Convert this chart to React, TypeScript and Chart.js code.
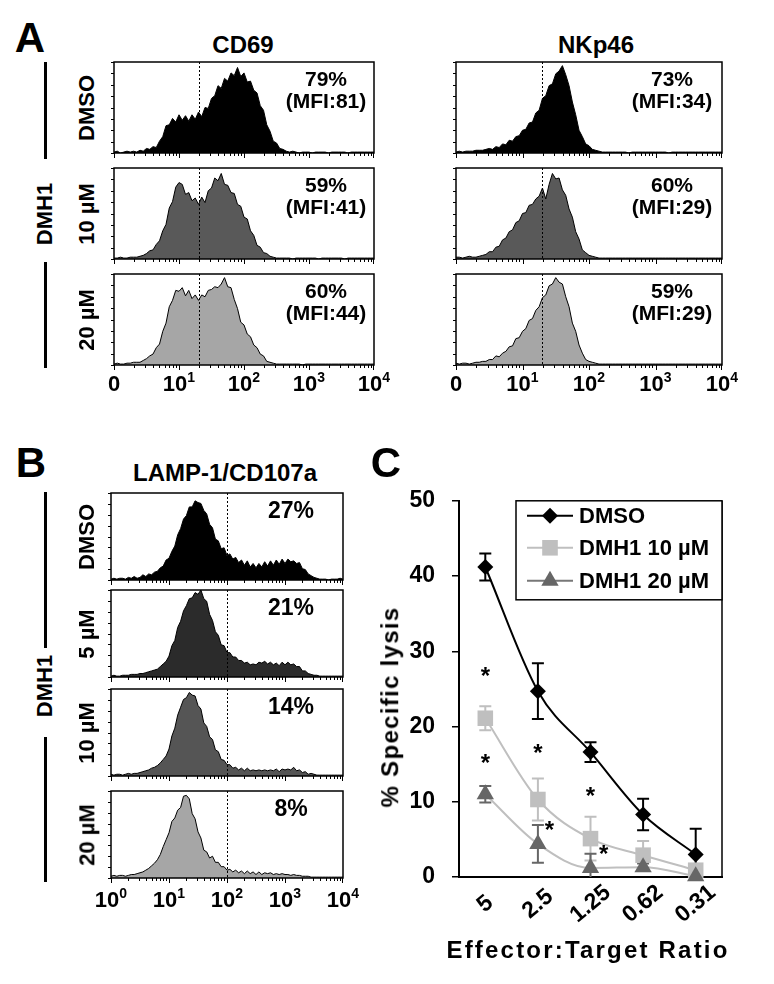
import React, { useEffect, useRef } from 'react';
import { Chart, registerables } from 'chart.js';
Chart.register(...registerables);

const FONT = '"Liberation Sans", Arial, Helvetica, sans-serif';

// ---------- Flow cytometry histograms (bins every 0.05 log-decade, 0..4) ----------
const BIN_STEP = 0.05;

const CD69_DMSO = [
  1, 2, 0, 1, 2, 1, 2, 1, 3, 2,
  5, 4, 7, 6, 13, 18, 30, 31, 38, 34,
  42, 36, 41, 35, 42, 37, 45, 40, 50, 49,
  60, 63, 74, 71, 82, 79, 88, 85, 94, 84,
  88, 78, 79, 69, 66, 52, 47, 31, 24, 13,
  11, 5, 4, 2, 1, 2, 1, 0, 1, 1,
  1, 0, 1, 1, 1, 1, 0, 1, 1, 1,
  1, 1, 0, 1, 1, 1, 1, 1, 1, 1,
  1,
];
const CD69_D10 = [
  1, 1, 2, 1, 1, 2, 2, 2, 3, 4,
  6, 9, 10, 16, 20, 31, 38, 56, 63, 79,
  84, 82, 71, 73, 64, 67, 60, 68, 62, 75,
  78, 89, 86, 94, 82, 81, 73, 72, 60, 58,
  46, 44, 31, 26, 15, 13, 7, 6, 3, 2,
  1, 1, 1, 1, 1, 0, 1, 1, 1, 1,
  1, 1, 1, 0, 1, 1, 1, 1, 1, 1,
  1, 0, 1, 1, 1, 1, 1, 1, 1, 1,
  1,
];
const CD69_D20 = [
  1, 2, 1, 1, 2, 2, 3, 3, 3, 5,
  7, 10, 12, 19, 23, 37, 46, 64, 71, 82,
  81, 85, 76, 82, 73, 77, 71, 77, 75, 82,
  83, 86, 85, 89, 96, 86, 85, 72, 62, 47,
  44, 34, 31, 22, 19, 12, 10, 4, 3, 2,
  1, 1, 1, 1, 1, 1, 1, 1, 0, 1,
  1, 1, 1, 1, 1, 1, 1, 1, 1, 1,
  1, 1, 1, 1, 1, 1, 1, 1, 1, 1,
  1,
];
const NKP46_DMSO = [
  1, 2, 1, 2, 2, 2, 3, 3, 3, 4,
  5, 4, 7, 6, 10, 9, 14, 13, 18, 19,
  25, 26, 33, 34, 44, 47, 60, 63, 74, 76,
  87, 90, 96, 86, 74, 56, 42, 25, 18, 10,
  8, 4, 3, 2, 1, 1, 1, 1, 1, 1,
  1, 1, 0, 1, 1, 1, 1, 1, 1, 1,
  1, 1, 1, 1, 0, 1, 1, 1, 1, 1,
  1, 1, 1, 1, 1, 1, 1, 1, 1, 1,
  1,
];
const NKP46_D10 = [
  2, 2, 1, 2, 3, 2, 2, 3, 4, 5,
  8, 8, 13, 14, 21, 23, 30, 32, 40, 42,
  50, 51, 59, 60, 66, 69, 78, 66, 82, 94,
  88, 89, 76, 70, 55, 46, 30, 22, 10, 7,
  4, 3, 2, 1, 1, 1, 1, 1, 1, 1,
  1, 1, 1, 1, 1, 1, 1, 1, 1, 1,
  1, 1, 1, 1, 1, 1, 1, 1, 1, 1,
  1, 1, 1, 1, 1, 1, 1, 1, 1, 1,
  1,
];
const NKP46_D20 = [
  2, 1, 2, 2, 1, 2, 3, 3, 4, 4,
  6, 6, 10, 9, 13, 15, 20, 21, 29, 30,
  37, 40, 49, 51, 60, 64, 74, 77, 87, 89,
  96, 91, 89, 75, 64, 46, 37, 22, 13, 6,
  4, 3, 2, 1, 1, 1, 1, 1, 1, 1,
  1, 1, 1, 1, 1, 1, 1, 1, 1, 1,
  1, 1, 1, 1, 1, 1, 1, 1, 1, 1,
  1, 1, 1, 1, 1, 1, 1, 1, 1, 1,
  1,
];
const LAMP_DMSO = [
  1, 2, 1, 2, 2, 1, 3, 2, 4, 2,
  3, 6, 4, 7, 6, 9, 10, 14, 16, 23,
  25, 33, 39, 52, 59, 70, 74, 84, 84, 91,
  89, 88, 80, 76, 64, 60, 47, 45, 36, 37,
  28, 30, 24, 26, 20, 23, 17, 22, 15, 19,
  14, 19, 15, 21, 16, 22, 17, 23, 18, 24,
  19, 24, 21, 22, 19, 20, 13, 12, 7, 5,
  3, 2, 1, 1, 1, 0, 1, 1, 1, 2,
  1,
];
const LAMP_D5 = [
  1, 2, 1, 1, 2, 2, 2, 3, 3, 3,
  4, 4, 5, 6, 7, 8, 9, 12, 15, 18,
  24, 36, 42, 57, 64, 76, 82, 90, 91, 97,
  95, 100, 90, 87, 72, 65, 52, 48, 37, 36,
  28, 28, 23, 23, 19, 19, 16, 17, 14, 15,
  14, 17, 16, 18, 15, 17, 14, 16, 13, 17,
  14, 17, 14, 15, 12, 12, 7, 7, 4, 3,
  2, 2, 1, 1, 1, 1, 1, 1, 1, 1,
  1,
];
const LAMP_D10 = [
  2, 1, 2, 2, 1, 2, 3, 2, 3, 3,
  4, 5, 6, 7, 9, 10, 12, 15, 19, 23,
  31, 46, 55, 70, 79, 88, 90, 96, 93, 92,
  81, 77, 61, 57, 45, 42, 30, 28, 19, 18,
  13, 13, 9, 10, 7, 9, 6, 9, 6, 7,
  6, 7, 6, 7, 6, 7, 6, 8, 5, 8,
  7, 8, 7, 10, 6, 7, 4, 5, 2, 3,
  2, 1, 1, 1, 1, 1, 1, 1, 1, 1,
  1,
];
const LAMP_D20 = [
  2, 3, 2, 3, 3, 2, 3, 4, 4, 5,
  6, 7, 9, 11, 14, 17, 21, 27, 36, 44,
  52, 65, 69, 78, 81, 94, 95, 91, 74, 68,
  53, 46, 32, 30, 23, 25, 18, 18, 13, 13,
  9, 10, 7, 9, 6, 8, 5, 8, 5, 7,
  4, 7, 4, 6, 5, 6, 4, 5, 4, 5,
  4, 4, 3, 4, 3, 3, 2, 2, 2, 1,
  1, 1, 1, 1, 1, 1, 1, 1, 1, 1,
  1,
];

// gates (log decade of the dotted marker)
const A_GATE = 1.3;
const B_GATE = 2.0;

// tick labels of the log axes
const A_TICK_BASE = ['0', '10', '10', '10', '10'];
const A_TICK_EXP = ['', '1', '2', '3', '4'];
const B_TICK_BASE = ['10', '10', '10', '10', '10'];
const B_TICK_EXP = ['0', '1', '2', '3', '4'];

// texts
const A_MARKERS = ['CD69', 'NKp46'];
const A_ROWS = ['DMSO', '10 µM', '20 µM'];
const B_ROWS = ['DMSO', '5 µM', '10 µM', '20 µM'];
const CD69_PCT = ['79%', '59%', '60%'];
const CD69_MFI = ['(MFI:81)', '(MFI:41)', '(MFI:44)'];
const NKP46_PCT = ['73%', '60%', '59%'];
const NKP46_MFI = ['(MFI:34)', '(MFI:29)', '(MFI:29)'];
const LAMP_PCT = ['27%', '21%', '14%', '8%'];

// ---------- Panel C: cytotoxicity ----------
const C_RATIOS = ['5', '2.5', '1.25', '0.62', '0.31'];
const C_SERIES_NAMES = ['DMSO', 'DMH1 10 µM', 'DMH1 20 µM'];
const C_DMSO = [41.2, 24.7, 16.6, 8.3, 3.0];
const C_DMSO_ERR = [1.8, 3.7, 1.3, 2.1, 3.4];
const C_D10 = [21.1, 10.3, 5.1, 2.9, 0.9];
const C_D10_ERR = [1.6, 2.8, 2.9, 1.9, 0.5];
const C_D20 = [11.0, 4.4, 1.2, 1.3, 0.1];
const C_D20_ERR = [1.1, 2.5, 1.9, 0.5, 0.2];
const C_STAR_POS = [0, 0, 1, 1.22, 2, 2.25];
const C_STAR_VAL = [27.3, 15.8, 17.1, 6.8, 11.3, 3.6];

type HistProps = {
  x: number; y: number; w: number; h: number;
  values: number[]; fill: string; gate: number;
  tickBase?: string[]; tickExp?: string[]; labelOffset?: number;
};

function Histogram({ x, y, w, h, values, fill, gate, tickBase, tickExp, labelOffset = 20 }: HistProps) {
  const ref = useRef<HTMLCanvasElement>(null);
  const hasTicks = !!tickBase;
  const padL = hasTicks ? 18 : 10;
  const padR = hasTicks ? 26 : 6;
  const padT = 4;
  const padB = hasTicks ? 46 : 8;
  const cw = w + padL + padR;
  const ch = h + padT + padB;

  useEffect(() => {
    const plugin = {
      id: 'histFrame',
      afterDatasetsDraw(chart: any) {
        const { ctx, chartArea: a, scales } = chart;
        const sx = scales.x, sy = scales.y;
        ctx.save();
        ctx.strokeStyle = '#000';
        ctx.lineWidth = 1;
        ctx.setLineDash([2, 2]);
        const gx = Math.round(sx.getPixelForValue(gate)) + 0.5;
        ctx.beginPath();
        ctx.moveTo(gx, a.top);
        ctx.lineTo(gx, a.bottom);
        ctx.stroke();
        ctx.setLineDash([]);
        ctx.lineWidth = 1.5;
        ctx.strokeRect(a.left, a.top, a.right - a.left, a.bottom - a.top);
        ctx.lineWidth = 1;
        ctx.beginPath();
        for (let k = 0; k < 4; k++) {
          for (let m = 1; m < 10; m++) {
            const px = Math.round(sx.getPixelForValue(k + Math.log10(m))) + 0.5;
            const len = m === 1 ? 5 : 3;
            ctx.moveTo(px, a.bottom);
            ctx.lineTo(px, a.bottom + len);
          }
        }
        const p4 = Math.round(sx.getPixelForValue(4)) - 0.5;
        ctx.moveTo(p4, a.bottom);
        ctx.lineTo(p4, a.bottom + 5);
        for (let v = 0; v <= 100; v += 12.5) {
          const py = Math.round(sy.getPixelForValue(v)) + 0.5;
          ctx.moveTo(a.left - 3, py);
          ctx.lineTo(a.left, py);
        }
        ctx.stroke();
        if (tickBase && tickExp) {
          ctx.fillStyle = '#000';
          ctx.textBaseline = 'middle';
          ctx.textAlign = 'left';
          const baseFont = `bold 22px ${FONT}`;
          const supFont = `bold 14px ${FONT}`;
          for (let k = 0; k < tickBase.length; k++) {
            const px = sx.getPixelForValue(k);
            ctx.font = baseFont;
            const wb = ctx.measureText(tickBase[k]).width;
            ctx.font = supFont;
            const we = tickExp[k] ? ctx.measureText(tickExp[k]).width : 0;
            const x0 = px - (wb + we) / 2;
            const ly = a.bottom + labelOffset;
            ctx.font = baseFont;
            ctx.fillText(tickBase[k], x0, ly);
            if (tickExp[k]) {
              ctx.font = supFont;
              ctx.fillText(tickExp[k], x0 + wb, ly - 7);
            }
          }
        }
        ctx.restore();
      },
    };

    const chart = new Chart(ref.current as HTMLCanvasElement, {
      type: 'line',
      data: {
        datasets: [
          {
            data: values.map((v, i) => ({ x: i * BIN_STEP, y: v })),
            fill: 'origin',
            backgroundColor: fill,
            borderColor: '#000',
            borderWidth: 1,
            pointRadius: 0,
            tension: 0,
          },
        ],
      },
      options: {
        animation: false,
        responsive: false,
        maintainAspectRatio: false,
        events: [],
        layout: { padding: { left: padL, right: padR, top: padT, bottom: padB } },
        plugins: { legend: { display: false }, tooltip: { enabled: false } },
        scales: {
          x: { type: 'linear', min: 0, max: 4, display: false },
          y: { type: 'linear', min: 0, max: 100, display: false },
        },
      },
      plugins: [plugin],
    } as any);
    return () => chart.destroy();
  }, []);

  return (
    <canvas
      ref={ref}
      width={cw}
      height={ch}
      style={{ position: 'absolute', left: x - padL, top: y - padT, width: cw, height: ch }}
    />
  );
}

function drawMarker(ctx: CanvasRenderingContext2D, kind: string, cx: number, cy: number, color: string) {
  ctx.fillStyle = color;
  ctx.beginPath();
  if (kind === 'diamond') {
    const r = 8;
    ctx.moveTo(cx, cy - r); ctx.lineTo(cx + r, cy); ctx.lineTo(cx, cy + r); ctx.lineTo(cx - r, cy);
  } else if (kind === 'square') {
    const s = 7.8;
    ctx.rect(cx - s, cy - s, 2 * s, 2 * s);
  } else {
    const r = 10;
    ctx.moveTo(cx, cy - r); ctx.lineTo(cx + r * 0.866, cy + r / 2); ctx.lineTo(cx - r * 0.866, cy + r / 2);
  }
  ctx.closePath();
  ctx.fill();
}

function LysisChart() {
  const ref = useRef<HTMLCanvasElement>(null);
  const CW = 404, CH = 514;
  useEffect(() => {
    const series = [
      { name: C_SERIES_NAMES[0], values: C_DMSO, err: C_DMSO_ERR, line: '#000000', marker: '#000000', err_c: '#000000', legLine: '#000000', kind: 'diamond' },
      { name: C_SERIES_NAMES[1], values: C_D10, err: C_D10_ERR, line: '#bfbfbf', marker: '#bfbfbf', err_c: '#bfbfbf', legLine: '#bfbfbf', kind: 'square' },
      { name: C_SERIES_NAMES[2], values: C_D20, err: C_D20_ERR, line: '#bfbfbf', marker: '#666666', err_c: '#666666', legLine: '#777777', kind: 'triangle' },
    ];
    const plugin = {
      id: 'lysisExtras',
      beforeDatasetsDraw(chart: any) {
        const { ctx, chartArea: a, scales } = chart;
        const sx = scales.x, sy = scales.y;
        ctx.save();
        ctx.beginPath();
        ctx.rect(a.left, a.top, a.right - a.left, a.bottom - a.top);
        ctx.clip();
        ctx.lineWidth = 2;
        series.forEach((s) => {
          ctx.strokeStyle = s.err_c;
          s.values.forEach((v, i) => {
            const e = s.err[i];
            const px = sx.getPixelForValue(i);
            const pt = sy.getPixelForValue(v + e);
            const pb = sy.getPixelForValue(v - e);
            ctx.beginPath();
            ctx.moveTo(px, pt); ctx.lineTo(px, pb);
            ctx.moveTo(px - 6, pt); ctx.lineTo(px + 6, pt);
            ctx.moveTo(px - 6, pb); ctx.lineTo(px + 6, pb);
            ctx.stroke();
          });
        });
        ctx.restore();
      },
      afterDraw(chart: any) {
        const { ctx, chartArea: a, scales } = chart;
        const sx = scales.x, sy = scales.y;
        ctx.save();
        ctx.strokeStyle = '#000';
        ctx.lineWidth = 1.5;
        ctx.beginPath();
        ctx.moveTo(a.right, a.top);
        ctx.lineTo(a.right, a.bottom);
        ctx.stroke();
        ctx.fillStyle = '#000';
        ctx.font = `bold 23px ${FONT}`;
        ctx.textAlign = 'center';
        ctx.textBaseline = 'middle';
        C_RATIOS.forEach((lab, i) => {
          const px = sx.getPixelForValue(i);
          ctx.save();
          ctx.translate(px, a.bottom + 27);
          ctx.rotate((-40 * Math.PI) / 180);
          ctx.fillText(lab, 0, 0);
          ctx.restore();
        });
        ctx.font = `bold 24px ${FONT}`;
        ctx.textBaseline = 'alphabetic';
        const m = ctx.measureText('*');
        const off = (m.actualBoundingBoxAscent - m.actualBoundingBoxDescent) / 2;
        C_STAR_POS.forEach((p, i) => {
          ctx.fillText('*', sx.getPixelForValue(p), sy.getPixelForValue(C_STAR_VAL[i]) + off);
        });
        const lw = 206, lh = 99;
        const lx = a.right - lw, ly = a.top;
        ctx.fillStyle = '#fff';
        ctx.fillRect(lx, ly, lw, lh);
        ctx.strokeStyle = '#000';
        ctx.lineWidth = 1.5;
        ctx.strokeRect(lx, ly, lw, lh);
        const rows = [15, 47, 80];
        ctx.font = `bold 22px ${FONT}`;
        ctx.textAlign = 'left';
        ctx.textBaseline = 'middle';
        series.forEach((s, i) => {
          const cy = ly + rows[i];
          ctx.strokeStyle = s.legLine;
          ctx.lineWidth = 2;
          ctx.beginPath();
          ctx.moveTo(lx + 11, cy);
          ctx.lineTo(lx + 57, cy);
          ctx.stroke();
          drawMarker(ctx, s.kind, lx + 34, cy, s.marker);
          ctx.fillStyle = '#000';
          ctx.fillText(s.name, lx + 63, cy + 1);
        });
        ctx.restore();
      },
    };

    const mk = (s: any, order: number) => ({
      label: s.name,
      data: s.values,
      borderColor: s.line,
      backgroundColor: s.marker,
      pointBackgroundColor: s.marker,
      pointBorderColor: s.marker,
      pointBorderWidth: 0,
      borderWidth: 2,
      pointStyle: s.kind === 'diamond' ? 'rectRot' : s.kind === 'square' ? 'rect' : 'triangle',
      pointRadius: s.kind === 'diamond' ? 8 : s.kind === 'square' ? 11 : 10,
      cubicInterpolationMode: 'monotone',
      clip: false,
      fill: false,
      order,
    });

    const chart = new Chart(ref.current as HTMLCanvasElement, {
      type: 'line',
      data: {
        labels: C_RATIOS,
        datasets: [mk(series[0], 2), mk(series[1], 1), mk(series[2], 0)],
      },
      options: {
        animation: false,
        responsive: false,
        maintainAspectRatio: false,
        events: [],
        layout: { padding: { top: 23, right: 52, left: 0, bottom: 0 } },
        plugins: { legend: { display: false }, tooltip: { enabled: false } },
        scales: {
          x: {
            type: 'category',
            offset: true,
            ticks: { display: false },
            grid: { display: false, drawTicks: false },
            border: { display: true, color: '#000', width: 2 },
            afterFit: (s: any) => { s.height = 107; },
          },
          y: {
            min: 0,
            max: 50,
            ticks: { stepSize: 10, color: '#000', padding: 17, font: { family: FONT, size: 23, weight: 'bold' } },
            grid: { drawOnChartArea: false, drawTicks: true, tickLength: 7, color: '#000', lineWidth: 1.5 },
            border: { display: true, color: '#000', width: 2 },
            afterFit: (s: any) => { s.width = 89; },
          },
        },
      },
      plugins: [plugin],
    } as any);
    return () => chart.destroy();
  }, []);
  return (
    <canvas
      ref={ref}
      width={CW}
      height={CH}
      style={{ position: 'absolute', left: 370, top: 470, width: CW, height: CH }}
    />
  );
}

function Label({ x, y, size, text, rot = 0, spacing = 0 }: { x: number; y: number; size: number; text: string; rot?: number; spacing?: number }) {
  return (
    <div
      style={{
        position: 'absolute',
        left: x,
        top: y,
        transform: `translate(-50%, -50%) rotate(${rot}deg)`,
        font: `bold ${size}px ${FONT}`,
        lineHeight: 1.15,
        letterSpacing: spacing,
        whiteSpace: 'nowrap',
        color: '#000',
      }}
    >
      {text}
    </div>
  );
}

function VBar({ x, y1, y2 }: { x: number; y1: number; y2: number }) {
  return <div style={{ position: 'absolute', left: x - 1.5, top: y1, width: 3, height: y2 - y1, background: '#000' }} />;
}

export default function App() {
  const aRowTops = [62, 168, 274];
  const aH = 91;
  const bRowTops = [493, 590, 689, 791];
  const bH = 87;
  const aLeft = { x: 114, w: 260 };
  const aRight = { x: 456, w: 266 };
  const bBox = { x: 111, w: 232 };
  const cd69 = [CD69_DMSO, CD69_D10, CD69_D20];
  const nkp46 = [NKP46_DMSO, NKP46_D10, NKP46_D20];
  const lamp = [LAMP_DMSO, LAMP_D5, LAMP_D10, LAMP_D20];
  const aFills = ['#000000', '#595959', '#a6a6a6'];
  const bFills = ['#000000', '#2b2b2b', '#555555', '#a6a6a6'];

  return (
    <div style={{ position: 'absolute', left: 0, top: 0, width: 774, height: 984, background: '#fff', overflow: 'hidden' }}>
      <Label x={30} y={38} size={42} text="A" />
      <Label x={243} y={45} size={24} text={A_MARKERS[0]} />
      <Label x={596} y={45} size={24} text={A_MARKERS[1]} />
      <VBar x={45} y1={62} y2={159} />
      <Label x={45} y={214} size={22} text="DMH1" rot={-90} />
      <VBar x={45} y1={262} y2={368} />
      {aRowTops.map((t, i) => (
        <React.Fragment key={'a' + i}>
          <Histogram
            x={aLeft.x} y={t} w={aLeft.w} h={aH} values={cd69[i]} fill={aFills[i]} gate={A_GATE}
            tickBase={i === 2 ? A_TICK_BASE : undefined} tickExp={i === 2 ? A_TICK_EXP : undefined} labelOffset={20}
          />
          <Histogram
            x={aRight.x} y={t} w={aRight.w} h={aH} values={nkp46[i]} fill={aFills[i]} gate={A_GATE}
            tickBase={i === 2 ? A_TICK_BASE : undefined} tickExp={i === 2 ? A_TICK_EXP : undefined} labelOffset={20}
          />
          <Label x={87} y={t + aH / 2} size={22} text={A_ROWS[i]} rot={-90} />
          <Label x={326} y={t + 17} size={21} text={CD69_PCT[i]} />
          <Label x={326} y={t + 39} size={21} text={CD69_MFI[i]} />
          <Label x={672} y={t + 17} size={21} text={NKP46_PCT[i]} />
          <Label x={672} y={t + 39} size={21} text={NKP46_MFI[i]} />
        </React.Fragment>
      ))}

      <Label x={31} y={463} size={42} text="B" />
      <Label x={225} y={473} size={24} text="LAMP-1/CD107a" />
      <VBar x={45} y1={492} y2={648} />
      <Label x={45} y={686} size={22} text="DMH1" rot={-90} />
      <VBar x={45} y1={737} y2={882} />
      {bRowTops.map((t, i) => (
        <React.Fragment key={'b' + i}>
          <Histogram
            x={bBox.x} y={t} w={bBox.w} h={bH} values={lamp[i]} fill={bFills[i]} gate={B_GATE}
            tickBase={i === 3 ? B_TICK_BASE : undefined} tickExp={i === 3 ? B_TICK_EXP : undefined} labelOffset={23}
          />
          <Label x={87} y={t + bH / 2} size={22} text={B_ROWS[i]} rot={-90} />
          <Label x={291} y={t + 17} size={23} text={LAMP_PCT[i]} />
        </React.Fragment>
      ))}

      <Label x={386} y={463} size={42} text="C" />
      <LysisChart />
      <Label x={390} y={707} size={24} text="% Specific lysis" rot={-90} spacing={1.3} />
      <Label x={588} y={950} size={24} text="Effector:Target Ratio" spacing={2.2} />
    </div>
  );
}
